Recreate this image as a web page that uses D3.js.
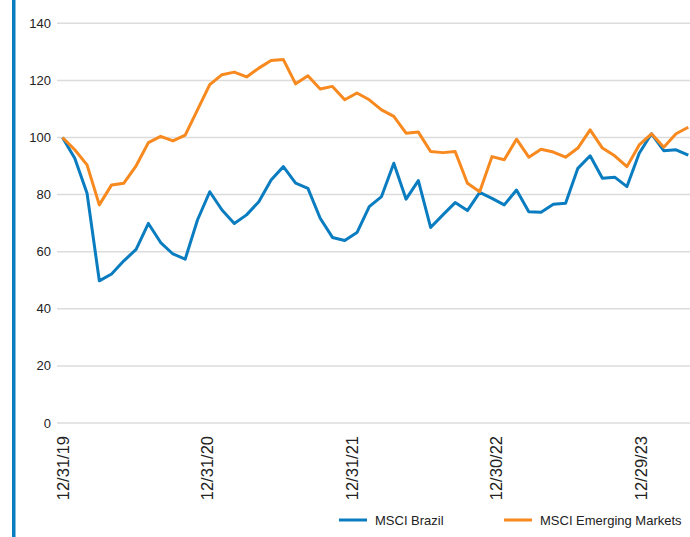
<!DOCTYPE html>
<html>
<head>
<meta charset="utf-8">
<script src="https://cdn.jsdelivr.net/npm/d3@7/dist/d3.min.js"></script>
<style>
  html, body { margin: 0; padding: 0; background: #fff; }
  svg { display: block; }
</style>
</head>
<body>
<svg id="chart" width="690" height="537"></svg>
<script>
// ---- data ----
const dates = [
  "12/31/19","1/31/20","2/28/20","3/31/20","4/30/20","5/29/20","6/30/20","7/31/20","8/31/20","9/30/20","10/30/20","11/30/20",
  "12/31/20","1/29/21","2/26/21","3/31/21","4/30/21","5/31/21","6/30/21","7/30/21","8/31/21","9/30/21","10/29/21","11/30/21",
  "12/31/21","1/31/22","2/28/22","3/31/22","4/29/22","5/31/22","6/30/22","7/29/22","8/31/22","9/30/22","10/31/22","11/30/22",
  "12/30/22","1/31/23","2/28/23","3/31/23","4/28/23","5/31/23","6/30/23","7/31/23","8/31/23","9/29/23","10/31/23","11/30/23",
  "12/29/23","1/31/24","2/29/24","3/28/24"
];
const brazil = [
  100, 92.7, 80.5, 49.8, 52.2, 56.8, 60.8, 69.9, 63.2, 59.2, 57.4, 71.1,
  81.0, 74.6, 69.9, 72.9, 77.5, 85.1, 89.8, 84.0, 82.2, 71.7, 65.0, 63.9,
  66.7, 75.8, 79.3, 91.0, 78.4, 84.9, 68.5, 72.9, 77.2, 74.4, 80.8, 78.7,
  76.4, 81.6, 74.0, 73.8, 76.6, 77.0, 89.2, 93.6, 85.7, 86.1, 82.8, 94.5,
  101.3, 95.4, 95.7, 93.8
];
const emerging = [
  100, 95.7, 90.4, 76.4, 83.4, 84.0, 90.1, 98.2, 100.4, 98.8, 100.8, 109.7,
  118.5, 122.0, 122.9, 121.2, 124.3, 127.0, 127.3, 118.8, 121.6, 117.0, 117.9, 113.2,
  115.6, 113.2, 109.7, 107.4, 101.5, 101.9, 95.1, 94.7, 95.1, 84.0, 81.0, 93.3,
  92.2, 99.4, 93.1, 95.9, 94.9, 93.1, 96.3, 102.7, 96.3, 93.6, 89.8, 97.4,
  101.3, 96.6, 101.3, 103.6
];
const yTicks = [0, 20, 40, 60, 80, 100, 120, 140];
const xTickLabels = ["12/31/19", "12/31/20", "12/31/21", "12/30/22", "12/29/23"];
const seriesNames = ["MSCI Brazil", "MSCI Emerging Markets"];
const colors = ["#0a7cc0", "#f7891f"];

// ---- layout ----
const svg = d3.select("#chart");
const W = 690, H = 537;
const FONT = "Liberation Sans, Arial, Helvetica, sans-serif";

// left accent bar
svg.append("rect").attr("x", 12).attr("y", 0).attr("width", 3.5).attr("height", H).attr("fill", colors[0]);

const x = d3.scalePoint().domain(dates).range([62.5, 688.3]);
const xLab = d3.scalePoint().domain(xTickLabels).range([63, 641]);
const y = d3.scaleLinear().domain([0, 140]).range([423, 23.3]);

// gridlines
svg.append("g").selectAll("line").data(yTicks).join("line")
  .attr("x1", 57).attr("x2", W)
  .attr("y1", d => y(d)).attr("y2", d => y(d))
  .attr("stroke", "#dcdcdc").attr("stroke-width", 1.5);

// y labels
svg.append("g").selectAll("text").data(yTicks).join("text")
  .attr("x", 51).attr("y", d => y(d)).attr("dy", "0.35em")
  .attr("text-anchor", "end")
  .attr("font-family", FONT)
  .attr("font-size", 13).attr("fill", "#222")
  .text(d => d);

// x labels (rotated)
svg.append("g").selectAll("text").data(xTickLabels).join("text")
  .attr("transform", d => `translate(${xLab(d) + 5.5},436) rotate(-90)`)
  .attr("text-anchor", "end")
  .attr("font-family", FONT)
  .attr("font-size", 16.5).attr("fill", "#222")
  .text(d => d);

// lines
const line = d3.line().x((d, i) => x(dates[i])).y(d => y(d));
[brazil, emerging].forEach((s, k) => {
  svg.append("path").datum(s)
    .attr("d", line)
    .attr("fill", "none")
    .attr("stroke", colors[k])
    .attr("stroke-width", 3)
    .attr("stroke-linejoin", "round");
});

// legend
const legendX = [339, 504];
seriesNames.forEach((name, k) => {
  svg.append("line")
    .attr("x1", legendX[k]).attr("x2", legendX[k] + 28)
    .attr("y1", 520).attr("y2", 520)
    .attr("stroke", colors[k]).attr("stroke-width", 3);
  svg.append("text")
    .attr("x", legendX[k] + 36).attr("y", 520).attr("dy", "0.35em")
    .attr("font-family", FONT)
    .attr("font-size", 13).attr("fill", "#222")
    .text(name);
});
</script>
</body>
</html>
